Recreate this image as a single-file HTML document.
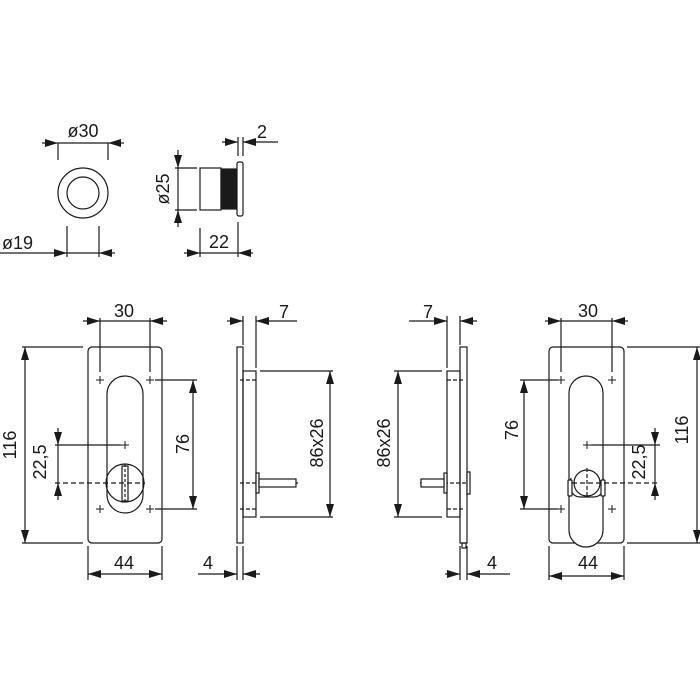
<!DOCTYPE html>
<html><head><meta charset="utf-8"><style>
html,body{margin:0;padding:0;background:#fff;}
svg{display:block;}
text{font-family:"Liberation Sans",Arial,sans-serif;font-size:18px;fill:#1a1a1a;}
</style></head><body>
<svg width="700" height="700" viewBox="0 0 700 700" xmlns="http://www.w3.org/2000/svg">
<defs>
<marker id="a" markerUnits="userSpaceOnUse" markerWidth="14" markerHeight="8" refX="13" refY="4" orient="auto-start-reverse">
<path d="M0,0 L13,4 L0,8 Z" fill="#1a1a1a"/></marker>
</defs>
<g stroke="#1a1a1a" stroke-width="1.2" fill="none">
<circle cx="83" cy="193" r="25"/>
<circle cx="83" cy="193" r="16"/>
<line x1="58" y1="143" x2="58" y2="160"/><line x1="108" y1="143" x2="108" y2="160"/>
<line x1="58" y1="143" x2="108" y2="143"/>
<line x1="42" y1="143" x2="58" y2="143" marker-end="url(#a)"/>
<line x1="124" y1="143" x2="108" y2="143" marker-end="url(#a)"/>
<line x1="67" y1="226" x2="67" y2="257"/><line x1="99" y1="226" x2="99" y2="257"/>
<line x1="0" y1="253" x2="67" y2="253" marker-end="url(#a)"/>
<line x1="67" y1="253" x2="99" y2="253"/>
<line x1="115" y1="253" x2="99" y2="253" marker-end="url(#a)"/>
<rect x="200" y="168" width="21" height="42"/>
<rect x="221" y="169" width="17" height="40" fill="#1a1a1a"/>
<rect x="237" y="162" width="6" height="54" rx="2" fill="#fff"/>
<line x1="175" y1="168" x2="197" y2="168"/><line x1="175" y1="210" x2="197" y2="210"/>
<line x1="178" y1="150" x2="178" y2="168" marker-end="url(#a)"/>
<line x1="178" y1="168" x2="178" y2="210"/>
<line x1="178" y1="227" x2="178" y2="210" marker-end="url(#a)"/>
<line x1="238" y1="137" x2="238" y2="156"/><line x1="243" y1="137" x2="243" y2="156"/>
<line x1="222" y1="142" x2="238" y2="142" marker-end="url(#a)"/>
<line x1="278" y1="142" x2="243" y2="142" marker-end="url(#a)"/>
<line x1="200" y1="228" x2="200" y2="257"/><line x1="238" y1="222" x2="238" y2="257"/>
<line x1="184" y1="253" x2="200" y2="253" marker-end="url(#a)"/>
<line x1="200" y1="253" x2="238" y2="253"/>
<line x1="253" y1="253" x2="238" y2="253" marker-end="url(#a)"/>

<rect x="88" y="347" width="74" height="196" rx="4"/>
<path d="M107,394 A18,18 0 0 1 143,394 L143,476 M107,476 L107,394"/>
<circle cx="125" cy="483" r="19" fill="#fff"/>
<path d="M107,476 L107,495 A18,18 0 0 0 143,495 L143,476" />
<rect x="122" y="466" width="6" height="35" fill="#fff"/>
<line x1="125" y1="464" x2="125" y2="502" stroke-dasharray="3,2"/>
<g stroke-width="1">
<path d="M96,380h8M100,376v8M146,380h8M150,376v8M96,509h8M100,505v8M146,509h8M150,505v8M121,445h8M125,441v8"/>
</g>
<line x1="100" y1="318" x2="100" y2="372"/><line x1="150" y1="318" x2="150" y2="372"/>
<line x1="83" y1="321" x2="100" y2="321" marker-end="url(#a)"/>
<line x1="100" y1="321" x2="150" y2="321"/>
<line x1="167" y1="321" x2="150" y2="321" marker-end="url(#a)"/>
<line x1="22" y1="347" x2="83" y2="347"/><line x1="22" y1="543" x2="83" y2="543"/>
<line x1="25" y1="347" x2="25" y2="543" marker-start="url(#a)" marker-end="url(#a)"/>
<line x1="55" y1="445" x2="121" y2="445"/>
<line x1="55" y1="483" x2="145" y2="483" stroke-dasharray="5,3"/>
<line x1="58" y1="428" x2="58" y2="445" marker-end="url(#a)"/>
<line x1="58" y1="445" x2="58" y2="483"/>
<line x1="58" y1="500" x2="58" y2="483" marker-end="url(#a)"/>
<line x1="155" y1="380" x2="197" y2="380"/><line x1="155" y1="509" x2="197" y2="509"/>
<line x1="193" y1="380" x2="193" y2="509" marker-start="url(#a)" marker-end="url(#a)"/>
<line x1="88" y1="546" x2="88" y2="580"/><line x1="162" y1="546" x2="162" y2="580"/>
<line x1="88" y1="574" x2="162" y2="574" marker-start="url(#a)" marker-end="url(#a)"/>

<rect x="237" y="347" width="6" height="196"/>
<rect x="243" y="371" width="13" height="146"/>
<line x1="240" y1="380" x2="256" y2="380" stroke-dasharray="4,2"/>
<line x1="240" y1="509" x2="256" y2="509" stroke-dasharray="4,2"/>
<line x1="240" y1="483" x2="298" y2="483" stroke-dasharray="4,2"/>
<rect x="256" y="473" width="3" height="20" fill="#fff"/>
<rect x="259" y="479" width="37" height="8" fill="#fff"/>
<line x1="243" y1="316" x2="243" y2="345"/><line x1="256" y1="316" x2="256" y2="368"/>
<line x1="227" y1="321" x2="243" y2="321" marker-end="url(#a)"/>
<line x1="297" y1="321" x2="256" y2="321" marker-end="url(#a)"/>
<line x1="260" y1="371" x2="333" y2="371"/><line x1="260" y1="517" x2="333" y2="517"/>
<line x1="330" y1="371" x2="330" y2="517" marker-start="url(#a)" marker-end="url(#a)"/>
<line x1="237" y1="546" x2="237" y2="580"/><line x1="243" y1="546" x2="243" y2="580"/>
<line x1="198" y1="574" x2="237" y2="574" marker-end="url(#a)"/>
<line x1="260" y1="574" x2="243" y2="574" marker-end="url(#a)"/>

<rect x="460" y="347" width="7" height="196"/>
<rect x="447" y="371" width="13" height="146"/>
<rect x="462" y="543" width="4" height="5"/>
<line x1="447" y1="380" x2="463" y2="380" stroke-dasharray="4,2"/>
<line x1="447" y1="509" x2="463" y2="509" stroke-dasharray="4,2"/>
<line x1="420" y1="483" x2="470" y2="483" stroke-dasharray="4,2"/>
<rect x="444" y="473" width="3" height="20" fill="#fff"/>
<rect x="467" y="472" width="3" height="22" fill="#fff"/>
<rect x="421" y="479" width="23" height="8" fill="#fff"/>
<line x1="447" y1="316" x2="447" y2="368"/><line x1="460" y1="316" x2="460" y2="345"/>
<line x1="409" y1="321" x2="447" y2="321" marker-end="url(#a)"/>
<line x1="477" y1="321" x2="460" y2="321" marker-end="url(#a)"/>
<line x1="394" y1="371" x2="442" y2="371"/><line x1="394" y1="517" x2="442" y2="517"/>
<line x1="398" y1="371" x2="398" y2="517" marker-start="url(#a)" marker-end="url(#a)"/>
<line x1="460" y1="546" x2="460" y2="580"/><line x1="467" y1="546" x2="467" y2="580"/>
<line x1="445" y1="574" x2="460" y2="574" marker-end="url(#a)"/>
<line x1="510" y1="574" x2="467" y2="574" marker-end="url(#a)"/>

<rect x="549" y="347" width="75" height="196" rx="4"/>
<path d="M569,393 A17,17 0 0 1 603,393 L603,530 A17,17 0 0 1 569,530 Z" fill="#fff"/>
<path d="M571,478 C568,488 572,497 580,497 L594,497 C602,497 606,488 603,478" />
<rect x="568" y="480" width="4" height="16" rx="1" fill="#fff"/>
<rect x="601" y="480" width="4" height="16" rx="1" fill="#fff"/>
<circle cx="587" cy="483" r="13" fill="#fff"/>
<line x1="587" y1="468" x2="587" y2="498" stroke-dasharray="4,2"/>
<line x1="572" y1="483" x2="660" y2="483" stroke-dasharray="5,3"/>
<g stroke-width="1">
<path d="M557,380h8M561,376v8M608,380h8M612,376v8M557,509h8M561,505v8M608,509h8M612,505v8M583,445h8M587,441v8"/>
</g>
<line x1="561" y1="318" x2="561" y2="372"/><line x1="612" y1="318" x2="612" y2="372"/>
<line x1="545" y1="321" x2="561" y2="321" marker-end="url(#a)"/>
<line x1="561" y1="321" x2="612" y2="321"/>
<line x1="628" y1="321" x2="612" y2="321" marker-end="url(#a)"/>
<line x1="627" y1="347" x2="700" y2="347"/><line x1="627" y1="543" x2="700" y2="543"/>
<line x1="697" y1="347" x2="697" y2="543" marker-start="url(#a)" marker-end="url(#a)"/>
<line x1="520" y1="380" x2="558" y2="380"/><line x1="520" y1="509" x2="558" y2="509"/>
<line x1="524" y1="380" x2="524" y2="509" marker-start="url(#a)" marker-end="url(#a)"/>
<line x1="591" y1="445" x2="660" y2="445"/>
<line x1="655" y1="428" x2="655" y2="445" marker-end="url(#a)"/>
<line x1="655" y1="445" x2="655" y2="483"/>
<line x1="655" y1="500" x2="655" y2="483" marker-end="url(#a)"/>
<line x1="549" y1="546" x2="549" y2="580"/><line x1="624" y1="546" x2="624" y2="580"/>
<line x1="549" y1="576" x2="624" y2="576" marker-start="url(#a)" marker-end="url(#a)"/>
</g>
<g>
<text x="83" y="137" text-anchor="middle">ø30</text>
<text x="2" y="249">ø19</text>
<text x="262" y="138" text-anchor="middle">2</text>
<text x="219" y="248" text-anchor="middle">22</text>
<text transform="translate(169,189) rotate(-90)" text-anchor="middle">ø25</text>
<text x="124" y="317" text-anchor="middle">30</text>
<text x="124" y="569" text-anchor="middle">44</text>
<text transform="translate(16,445) rotate(-90)" text-anchor="middle">116</text>
<text transform="translate(46,462) rotate(-90)" text-anchor="middle">22,5</text>
<text transform="translate(189,444) rotate(-90)" text-anchor="middle">76</text>
<text x="284" y="318" text-anchor="middle">7</text>
<text transform="translate(323,443) rotate(-90)" text-anchor="middle">86x26</text>
<text x="208" y="569" text-anchor="middle">4</text>
<text x="428" y="318" text-anchor="middle">7</text>
<text transform="translate(390,443) rotate(-90)" text-anchor="middle">86x26</text>
<text x="492" y="569" text-anchor="middle">4</text>
<text x="588" y="317" text-anchor="middle">30</text>
<text x="588" y="569" text-anchor="middle">44</text>
<text transform="translate(688,430) rotate(-90)" text-anchor="middle">116</text>
<text transform="translate(518,430) rotate(-90)" text-anchor="middle">76</text>
<text transform="translate(645,462) rotate(-90)" text-anchor="middle">22,5</text>
</g>
</svg>
</body></html>
